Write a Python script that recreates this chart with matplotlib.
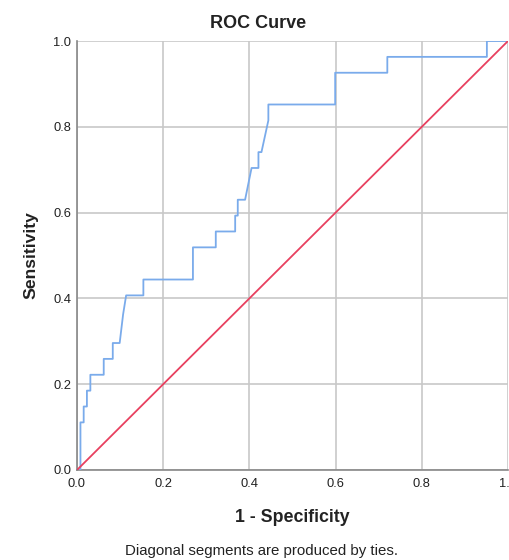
import matplotlib.pyplot as plt
import numpy as np

plt.rcParams['font.family'] = ['Liberation Sans', 'DejaVu Sans']

# ROC curve points (1 - specificity, sensitivity)
fpr = [0.0, 0.008, 0.008, 0.0155, 0.0155, 0.023, 0.023, 0.031, 0.031,
       0.062, 0.062, 0.083, 0.083, 0.099, 0.107, 0.114, 0.154, 0.154,
       0.269, 0.269, 0.322, 0.322, 0.367, 0.367, 0.373, 0.373, 0.390,
       0.405, 0.421, 0.421, 0.428, 0.444, 0.444, 0.599, 0.599, 0.720,
       0.720, 0.951, 0.951, 1.0]
tpr = [0.0, 0.0, 0.111, 0.111, 0.148, 0.148, 0.185, 0.185, 0.222,
       0.222, 0.259, 0.259, 0.296, 0.296, 0.363, 0.407, 0.407, 0.444,
       0.444, 0.519, 0.519, 0.556, 0.556, 0.593, 0.593, 0.630, 0.630,
       0.704, 0.704, 0.741, 0.741, 0.815, 0.852, 0.852, 0.926, 0.926,
       0.963, 0.963, 1.0, 1.0]
ref_line = [0.0, 1.0]
ticks = [0.0, 0.2, 0.4, 0.6, 0.8, 1.0]

fig = plt.figure(figsize=(5.1, 5.6), dpi=100)
ax = fig.add_axes([77 / 510, 1 - 470 / 560, 431 / 510, 429 / 560])

ax.plot(fpr, tpr, color='#7aabeb', lw=1.3, zorder=3)
ax.plot(ref_line, ref_line, color='#e8405f', lw=1.3, zorder=3)

ax.set_xlim(0, 1)
ax.set_ylim(0, 1)
ax.set_xticks(ticks)
ax.set_yticks(ticks)
ax.set_xticklabels(['%.1f' % t for t in ticks])
ax.set_yticklabels(['%.1f' % t for t in ticks])
ax.tick_params(length=0, labelsize=9.3, colors='#222222')
ax.tick_params(axis='x', pad=6)
ax.tick_params(axis='y', pad=4)
ax.grid(color='#c8c8c8', lw=1.2)
ax.set_axisbelow(True)

for s in ['top', 'right']:
    ax.spines[s].set_visible(False)
for s in ['left', 'bottom']:
    ax.spines[s].set_color('#888888')
    ax.spines[s].set_linewidth(1.2)

fig.text(258 / 510, 1 - 24 / 560, 'ROC Curve', ha='center', va='center',
         fontsize=13, fontweight='bold', color='#222222')
fig.text(292 / 510, 1 - 518 / 560, '1 - Specificity', ha='center', va='center',
         fontsize=12.8, fontweight='bold', color='#222222')
fig.text(31 / 510, 1 - 255 / 560, 'Sensitivity', ha='center', va='center',
         rotation=90, fontsize=12.6, fontweight='bold', color='#222222')
fig.text(262 / 510, 1 - 551 / 560, 'Diagonal segments are produced by ties.',
         ha='center', va='center', fontsize=10.8, color='#222222')

fig.savefig('out.png', dpi=100)
